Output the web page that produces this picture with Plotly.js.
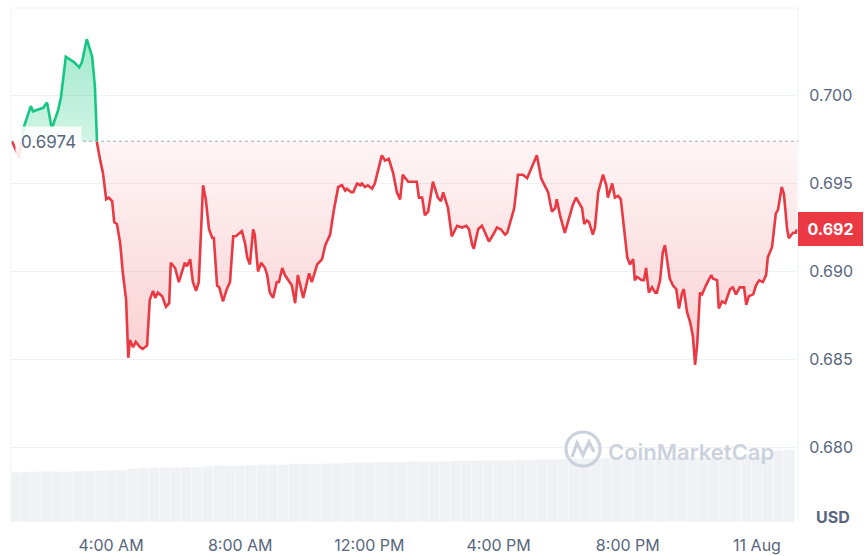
<!DOCTYPE html>
<html><head><meta charset="utf-8">
<script src="https://cdn.plot.ly/plotly-3.0.1.min.js"></script>
<style>html,body{margin:0;padding:0;background:#fff;} #chart{width:864px;height:556px;}</style>
</head><body><div id="chart"></div>
<script>
// ---------- data ----------
const baseline = 0.6974;
const priceTimes = [
"00:56","01:09","01:18","01:31","01:35","01:54","02:01","02:09","02:12","02:22","02:27","02:36","02:46","02:51","03:01","03:06","03:15","03:25","03:30","03:34",
"03:40","03:45","03:51","03:56","04:02","04:06","04:11","04:17","04:22","04:28","04:32","04:35","04:41","04:46","04:54","04:59","05:07","05:12","05:18","05:22",
"05:27","05:35","05:42","05:48","05:51","05:59","06:06","06:17","06:21","06:27","06:32","06:38","06:43","06:51","06:56","07:02","07:08","07:11","07:17","07:21",
"07:28","07:35","07:41","07:47","07:52","07:56","08:03","08:09","08:13","08:18","08:24","08:27","08:33","08:39","08:46","08:50","08:55","09:01","09:08","09:12",
"09:18","09:23","09:29","09:36","09:42","09:47","09:57","10:02","10:08","10:13","10:23","10:32","10:38","10:47","10:54","11:02","11:09","11:15","11:18","11:26",
"11:30","11:37","11:43","11:46","11:52","11:57","12:05","12:10","12:16","12:23","12:29","12:36","12:44","12:51","12:57","13:02","13:12","13:21","13:28","13:32",
"13:38","13:43","13:49","13:58","14:07","14:13","14:17","14:26","14:33","14:43","14:52","15:00","15:05","15:11","15:14","15:22","15:29","15:35","15:42","15:50",
"15:57","16:04","16:12","16:16","16:25","16:29","16:36","16:45","16:53","17:02","17:11","17:19","17:26","17:32","17:39","17:45","17:48","17:54","18:03","18:09",
"18:18","18:24","18:35","18:39","18:44","18:48","18:55","18:59","19:05","19:14","19:20","19:23","19:31","19:36","19:42","19:47","19:51","19:59","20:04","20:10",
"20:13","20:17","20:26","20:30","20:34","20:39","20:45","20:51","20:54","21:00","21:05","21:09","21:18","21:24","21:30","21:35","21:41","21:44","21:50","21:56",
"22:01","22:05","22:09","22:14","22:18","22:25","22:35","22:38","22:46","22:49","22:55","23:01","23:10","23:15","23:21","23:28","23:36","23:40","23:45","23:53",
"23:58","24:04","24:11","24:17","24:20","24:28","24:35","24:39","24:46","24:50","24:56","24:59","25:07","25:12","25:14"
];
const prices = [
0.6974,0.6965,0.6982,0.6994,0.6991,0.6993,0.6996,0.6983,0.6983,0.6992,0.6999,0.7022,0.7020,0.7019,0.7016,0.7019,0.7032,0.7022,0.7005,0.6973,
0.6963,0.6956,0.6941,0.6942,0.6940,0.6928,0.6927,0.6916,0.6899,0.6884,0.6851,0.6861,0.6857,0.6860,0.6857,0.6856,0.6858,0.6884,0.6889,0.6885,
0.6888,0.6886,0.6880,0.6882,0.6905,0.6902,0.6894,0.6905,0.6903,0.6907,0.6894,0.6889,0.6894,0.6949,0.6941,0.6924,0.6919,0.6919,0.6892,0.6891,
0.6883,0.6890,0.6894,0.6920,0.6920,0.6921,0.6923,0.6916,0.6908,0.6904,0.6924,0.6921,0.6900,0.6905,0.6902,0.6898,0.6888,0.6885,0.6894,0.6894,
0.6902,0.6898,0.6895,0.6892,0.6882,0.6898,0.6885,0.6891,0.6899,0.6894,0.6904,0.6907,0.6915,0.6921,0.6935,0.6948,0.6949,0.6946,0.6947,0.6945,
0.6945,0.6950,0.6949,0.6950,0.6948,0.6949,0.6947,0.6950,0.6957,0.6966,0.6963,0.6964,0.6956,0.6945,0.6941,0.6955,0.6951,0.6951,0.6951,0.6942,
0.6942,0.6932,0.6934,0.6951,0.6942,0.6940,0.6945,0.6936,0.6920,0.6926,0.6925,0.6926,0.6924,0.6915,0.6913,0.6924,0.6926,0.6922,0.6917,0.6921,
0.6925,0.6924,0.6921,0.6922,0.6932,0.6936,0.6955,0.6955,0.6953,0.6959,0.6966,0.6953,0.6949,0.6945,0.6934,0.6936,0.6941,0.6932,0.6922,0.6929,
0.6938,0.6942,0.6936,0.6927,0.6929,0.6928,0.6921,0.6925,0.6945,0.6955,0.6949,0.6942,0.6950,0.6942,0.6943,0.6941,0.6931,0.6908,0.6904,0.6907,
0.6895,0.6897,0.6895,0.6895,0.6902,0.6888,0.6891,0.6888,0.6888,0.6895,0.6911,0.6915,0.6896,0.6892,0.6890,0.6879,0.6888,0.6890,0.6877,0.6871,
0.6863,0.6847,0.6859,0.6888,0.6887,0.6892,0.6898,0.6896,0.6895,0.6879,0.6883,0.6882,0.6890,0.6891,0.6887,0.6891,0.6891,0.6881,0.6886,0.6887,
0.6892,0.6895,0.6894,0.6898,0.6908,0.6914,0.6933,0.6935,0.6948,0.6944,0.6924,0.6919,0.6922,0.6922,0.6924
];
const volTimes = [
"01:00","01:20","01:40","02:00","02:20","02:40","03:00","03:20","03:40","04:00","04:20","04:40","05:00","05:20","05:40","06:00","06:20","06:40","07:00","07:20",
"07:40","08:00","08:20","08:40","09:00","09:20","09:40","10:00","10:20","10:40","11:00","11:20","11:40","12:00","12:20","12:40","13:00","13:20","13:40","14:00",
"14:20","14:40","15:00","15:20","15:40","16:00","16:20","16:40","17:00","17:20","17:40","18:00","18:20","18:40","19:00","19:20","19:40","20:00","20:20","20:40",
"21:00","21:20","21:40","22:00","22:20","22:40","23:00","23:20","23:40","24:00","24:20","24:40","25:00"
];
const volumes = [
97,97,98,98,98,98,99,99,100,101,101,104,105,106,106,106,107,107,109,110,
110,110,111,112,112,112,113,113,113,114,114,115,116,116,117,117,117,118,118,118,
118,119,119,119,120,120,120,121,121,122,122,123,123,124,124,124,124,125,125,125,
125,125,126,126,126,126,126,127,127,127,127,139,141
];
const xTickTimes = ["04:00","08:00","12:00","16:00","20:00","24:00"];
const xTickText = ["4:00 AM","8:00 AM","12:00 PM","4:00 PM","8:00 PM","11 Aug"];
const yTickVals = [0.680,0.685,0.690,0.695,0.700];
const xRangeTimes = ["00:54:10","25:16:10"];
const yRange = [0.67577,0.70497];
const volRange = [0,1000];

// ---------- helpers ----------
function toMs(hm){
  const p = hm.split(':').map(Number);
  const h = p[0], m = p[1], s = p[2]||0;
  return Date.UTC(2024,7,10 + Math.floor(h/24), h%24, m, s);
}
const GREEN = '#16c784', RED = '#ea3943';
const T = priceTimes.map(toMs);

// insert baseline crossings
const st = [], sp = [];
for (let i=0;i<T.length;i++){
  st.push(T[i]); sp.push(prices[i]);
  if (i<T.length-1){
    const a = prices[i]-baseline, b = prices[i+1]-baseline;
    if (a*b<0){
      const f = a/(a-b);
      st.push(T[i]+f*(T[i+1]-T[i])); sp.push(baseline);
    }
  }
}
const greenLine = sp.map(v=> v>=baseline ? v : null);
const redLine = sp.map(v=> v<=baseline ? v : null);
const upper = sp.map(v=> Math.max(v,baseline));
const lower = sp.map(v=> Math.min(v,baseline));
const baseArr = sp.map(()=>baseline);

const traces = [
  {x:volTimes.map(toMs), y:volumes, type:'bar', yaxis:'y2', marker:{color:'#eff1f4', line:{color:'#fafbfc', width:0.6}}, hoverinfo:'skip'},
  {x:st, y:baseArr, mode:'lines', line:{width:0, color:'rgba(0,0,0,0)'}, hoverinfo:'skip'},
  {x:st, y:upper, mode:'lines', line:{width:0, color:'rgba(0,0,0,0)'}, fill:'tonexty',
   fillcolor:'rgba(22,199,132,0.28)',
   fillgradient:{type:'vertical', start:baseline, stop:0.7032, colorscale:[[0,'rgba(22,199,132,0.2)'],[1,'rgba(22,199,132,0.4)']]}, hoverinfo:'skip'},
  {x:st, y:baseArr, mode:'lines', line:{width:0, color:'rgba(0,0,0,0)'}, hoverinfo:'skip'},
  {x:st, y:lower, mode:'lines', line:{width:0, color:'rgba(0,0,0,0)'}, fill:'tonexty',
   fillcolor:'rgba(234,57,67,0.12)',
   fillgradient:{type:'vertical', start:0.6847, stop:baseline, colorscale:[[0,'rgba(234,57,67,0.24)'],[1,'rgba(234,57,67,0.05)']]}, hoverinfo:'skip'},
  {x:st, y:greenLine, mode:'lines', line:{color:GREEN, width:2.6, shape:'linear'}, connectgaps:false},
  {x:st, y:redLine, mode:'lines', line:{color:RED, width:2.6, shape:'linear'}, connectgaps:false}
];

const L = 11, R = 66, TOP = 8, B = 34, W = 864, H = 556;
const pw = W-L-R, ph = H-TOP-B;
const px = v => (v-L)/pw;
const py = v => (H-B-v)/ph;

const axisFont = {family:'Inter, "Open Sans", sans-serif', size:16, color:'#58667e'};
const layout = {
  width:W, height:H,
  margin:{l:L, r:R, t:TOP, b:B},
  paper_bgcolor:'#ffffff', plot_bgcolor:'#ffffff',
  showlegend:false,
  bargap:0,
  xaxis:{type:'date', range:xRangeTimes.map(toMs), showgrid:false, zeroline:false, showline:false,
         tickvals:xTickTimes.map(toMs), ticktext:xTickText, ticks:'outside', ticklen:9, tickcolor:'rgba(0,0,0,0)',
         tickfont:axisFont, fixedrange:true},
  yaxis:{range:yRange, side:'right', tickvals:yTickVals, ticktext:yTickVals.map(v=>v.toFixed(3)),
         showgrid:true, gridcolor:'#eff2f5', gridwidth:1, zeroline:false, showline:false,
         ticks:'outside', ticklen:7, tickcolor:'rgba(0,0,0,0)', tickfont:axisFont, fixedrange:true},
  yaxis2:{range:volRange, overlaying:'y', side:'left', visible:false, fixedrange:true},
  shapes:[
    {type:'line', xref:'paper', yref:'paper', x0:0, x1:1, y0:1, y1:1, line:{color:'#eff2f5', width:1}},
    {type:'line', xref:'paper', yref:'paper', x0:0, x1:0, y0:0, y1:1, line:{color:'#eff2f5', width:1}},
    {type:'line', xref:'paper', yref:'paper', x0:1, x1:1, y0:0, y1:1, line:{color:'#eff2f5', width:1}},
    {type:'line', xref:'paper', yref:'y', x0:0, x1:1, y0:baseline, y1:baseline, layer:'above', line:{color:'#a3abb8', width:1.2, dash:'dot'}},
    {type:'circle', xref:'paper', yref:'paper', x0:px(566), x1:px(600), y0:py(466), y1:py(432), layer:'above', line:{color:'#cbd2de', width:3.2}},
    {type:'path', xref:'paper', yref:'paper', layer:'above', line:{color:'#cbd2de', width:3.2},
     path:`M ${px(572)} ${py(457)} L ${px(577)} ${py(443)} L ${px(583)} ${py(455)} L ${px(589)} ${py(442)} L ${px(594)} ${py(452)}`}
  ],
  annotations:[
    {xref:'paper', yref:'y', x:0, y:baseline, xanchor:'left', yanchor:'middle', xshift:4, yshift:-1,
     text:'0.6974', showarrow:false, font:{family:'Inter, sans-serif', size:17, color:'#58667e'},
     bgcolor:'rgba(255,255,255,0.88)', borderpad:5},
    {xref:'paper', yref:'y', x:1, y:prices[prices.length-1], xanchor:'left', yanchor:'middle', xshift:0,
     text:'<b>'+prices[prices.length-1].toFixed(3)+'</b>', showarrow:false, font:{family:'Inter, sans-serif', size:16, color:'#ffffff'},
     bgcolor:RED, bordercolor:RED, borderwidth:1, borderpad:4, width:55, height:24},
    {xref:'paper', yref:'paper', x:1, y:0, xanchor:'left', yanchor:'middle', xshift:16, yshift:5,
     text:'<b>USD</b>', showarrow:false, font:{family:'Inter, sans-serif', size:16, color:'#58667e'}},
    {xref:'paper', yref:'paper', x:px(691), y:py(452), xanchor:'center', yanchor:'middle',
     text:'CoinMarketCap', showarrow:false, font:{family:'Inter, sans-serif', size:22, color:'#cbd2de', weight:600}}
  ]
};
Plotly.newPlot('chart', traces, layout, {displayModeBar:false, staticPlot:true});
</script>
</body></html>
